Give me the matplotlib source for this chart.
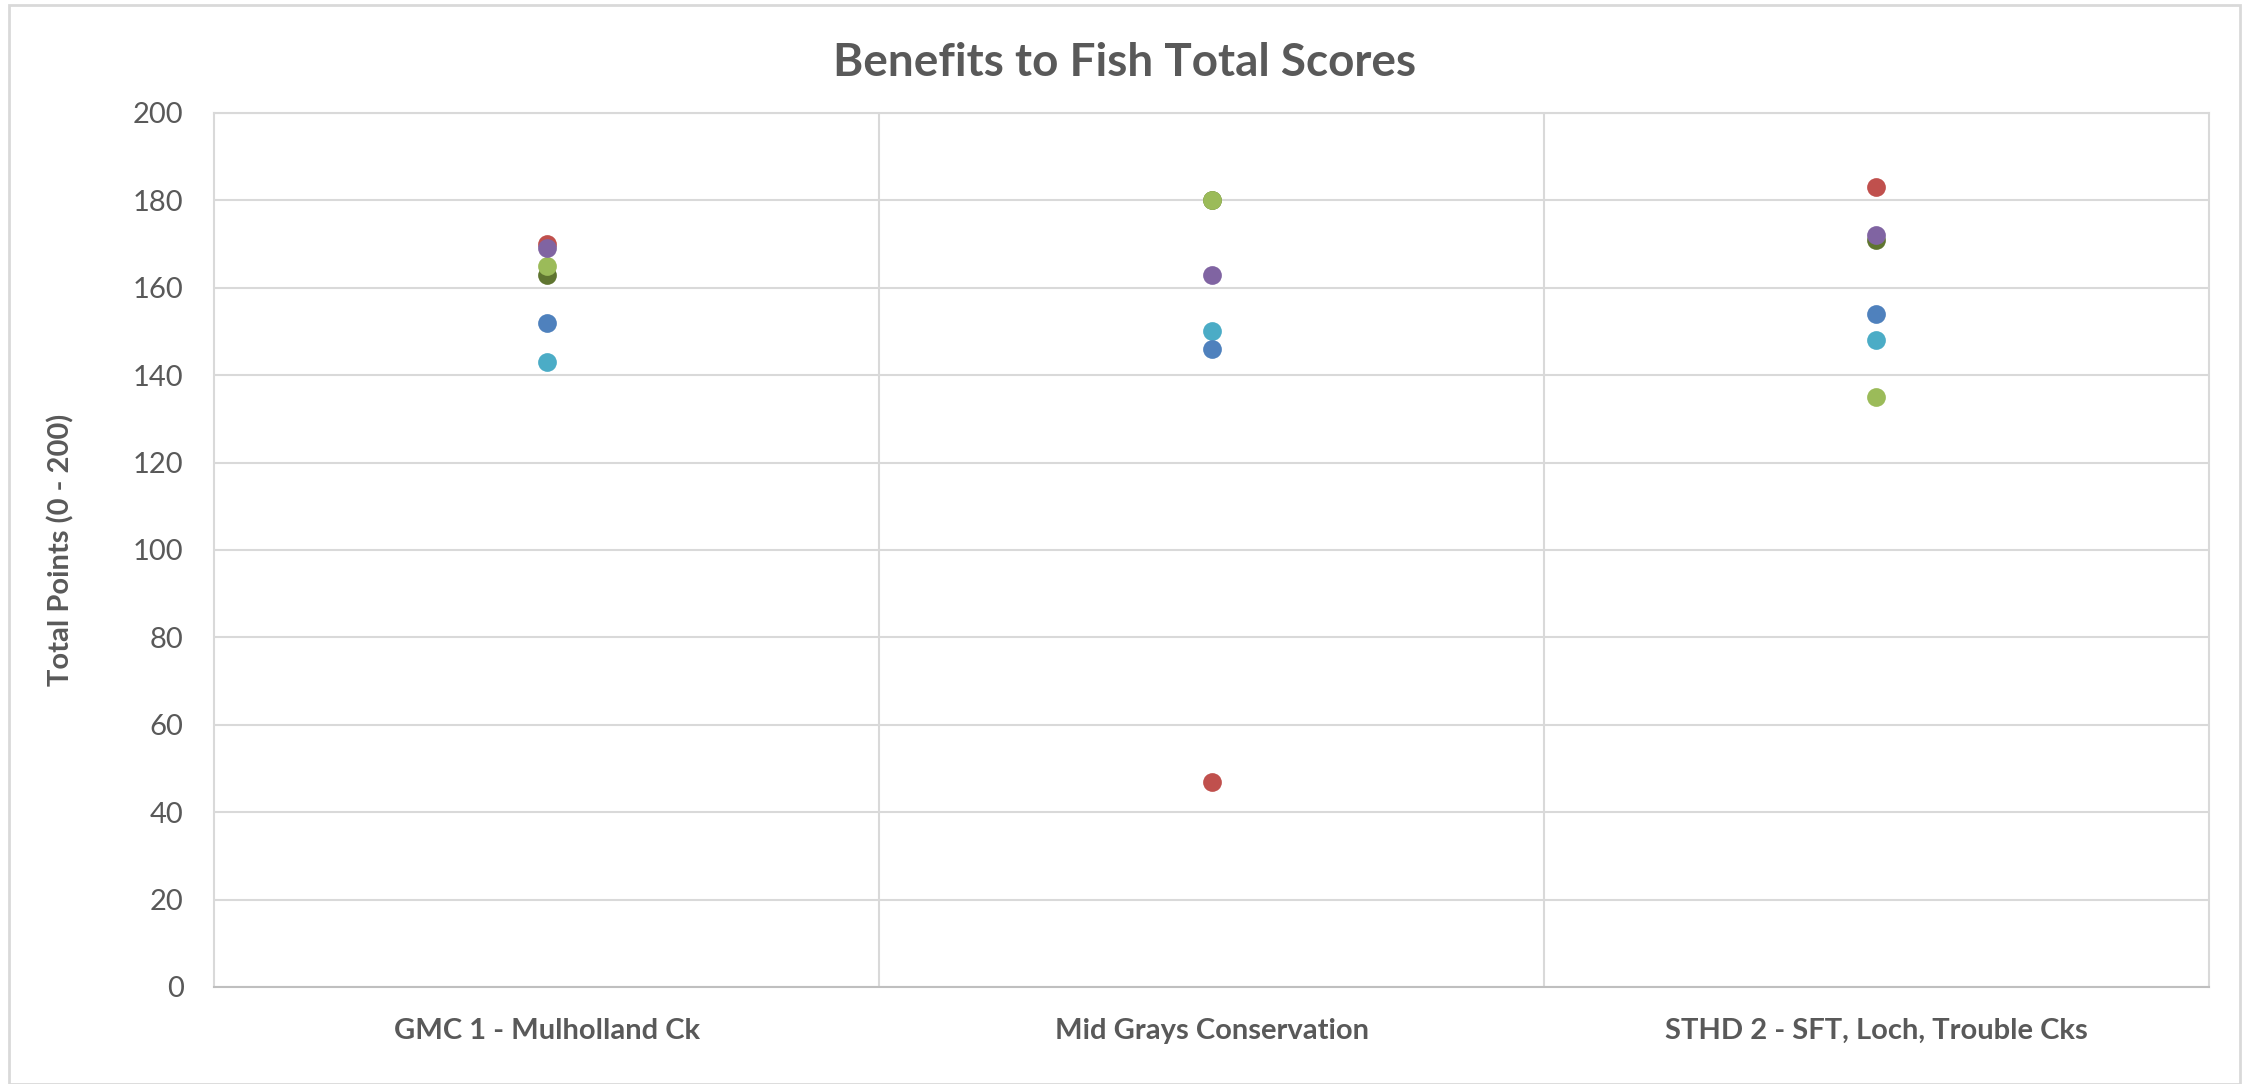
"""Benefits to Fish total scores - dot chart."""
import matplotlib
matplotlib.use("Agg")
import matplotlib.pyplot as plt
import matplotlib.patches as mpatches
import numpy as np

plt.rcParams["font.family"] = ["Lato", "DejaVu Sans"]

# ── data ──────────────────────────────────────────────────────────────────────
projects = ["GMC 1 - Mulholland Ck", "Mid Grays Conservation", "STHD 2 - SFT, Loch, Trouble Cks"]

# one series per scorer, drawn in this order (later ones on top)
olive  = [163, 180, 171]
aqua   = [143, 150, 148]
blue   = [152, 146, 154]
red    = [170, 47, 183]
green  = [165, 180, 135]
purple = [169, 163, 172]

series = [
    (olive,  "#5F7530"),
    (aqua,   "#4BACC6"),
    (blue,   "#4F81BD"),
    (red,    "#C0504D"),
    (green,  "#9BBB59"),
    (purple, "#8064A2"),
]

yticks = list(range(0, 201, 20))

# ── figure ────────────────────────────────────────────────────────────────────
GRID = "#D9D9D9"
TXT = "#595959"

fig = plt.figure(figsize=(22.49, 10.84), dpi=100)
ax = fig.add_axes([0.0952, 0.0895, 0.8870, 0.8063])

x = np.arange(len(projects))
for vals, col in series:
    ax.plot(x, vals, linestyle="none", marker="o", markersize=13.5,
            color=col, markeredgewidth=0, zorder=3)

ax.set_xlim(-0.5, len(projects) - 0.5)
ax.set_ylim(0, 200)
ax.set_yticks(yticks)
ax.set_yticklabels([str(t) for t in yticks], fontsize=21, color=TXT)
ax.set_xticks(x)
ax.set_xticklabels(projects, fontsize=21, fontweight="bold", color=TXT)
ax.tick_params(axis="y", length=0, pad=22)
ax.tick_params(axis="x", length=0, pad=22)

ax.yaxis.grid(True, color=GRID, linewidth=1.5)
for b in np.arange(0.5, len(projects) - 0.5):
    ax.axvline(b, color=GRID, linewidth=1.5, zorder=1)
ax.set_axisbelow(True)
for sp in ax.spines.values():
    sp.set_color(GRID)
    sp.set_linewidth(1.5)
ax.spines["bottom"].set_color("#BFBFBF")

ax.set_ylabel("Total Points (0 - 200)", fontsize=21, fontweight="bold",
              color=TXT, labelpad=42)
fig.text(0.5, 0.942, "Benefits to Fish Total Scores", ha="center", va="center",
         fontsize=33, fontweight="bold", color=TXT)

# outer chart border
fig.patches.append(mpatches.Rectangle((0.004, 0.0), 0.992, 0.995, transform=fig.transFigure,
                                      fill=False, edgecolor=GRID, linewidth=2))

fig.savefig("out.png", dpi=100)
plt.close()
